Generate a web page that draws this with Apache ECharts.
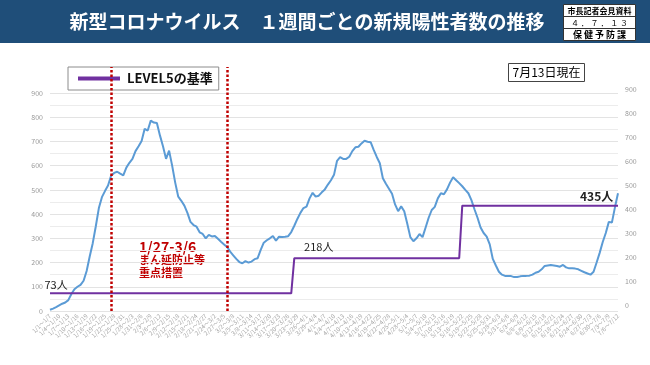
<!DOCTYPE html>
<html><head><meta charset="utf-8">
<script src="https://cdn.jsdelivr.net/npm/echarts@6/dist/echarts.min.js"></script>
<style>html,body{margin:0;padding:0;background:#fff}#c{width:650px;height:365px}</style>
</head><body><div id="c"></div>
<script>
// x categories: 7-day windows (start-end)
const categories = [
"1/1～1/7","1/2～1/8","1/3～1/9","1/4～1/10","1/5～1/11","1/6～1/12","1/7～1/13","1/8～1/14","1/9～1/15","1/10～1/16",
"1/11～1/17","1/12～1/18","1/13～1/19","1/14～1/20","1/15～1/21","1/16～1/22","1/17～1/23","1/18～1/24","1/19～1/25","1/20～1/26",
"1/21～1/27","1/22～1/28","1/23～1/29","1/24～1/30","1/25～1/31",
"1/26～2/1","1/27～2/2","1/28～2/3","1/29～2/4","1/30～2/5","1/31～2/6","2/1～2/7","2/2～2/8","2/3～2/9","2/4～2/10",
"2/5～2/11","2/6～2/12","2/7～2/13","2/8～2/14","2/9～2/15","2/10～2/16","2/11～2/17","2/12～2/18","2/13～2/19","2/14～2/20",
"2/15～2/21","2/16～2/22","2/17～2/23","2/18～2/24","2/19～2/25","2/20～2/26","2/21～2/27","2/22～2/28",
"2/23～3/1","2/24～3/2","2/25～3/3","2/26～3/4","2/27～3/5","2/28～3/6","3/1～3/7","3/2～3/8","3/3～3/9","3/4～3/10",
"3/5～3/11","3/6～3/12","3/7～3/13","3/8～3/14","3/9～3/15","3/10～3/16","3/11～3/17","3/12～3/18","3/13～3/19","3/14～3/20",
"3/15～3/21","3/16～3/22","3/17～3/23","3/18～3/24","3/19～3/25","3/20～3/26","3/21～3/27","3/22～3/28","3/23～3/29","3/24～3/30",
"3/25～3/31",
"3/26～4/1","3/27～4/2","3/28～4/3","3/29～4/4","3/30～4/5","3/31～4/6","4/1～4/7","4/2～4/8","4/3～4/9","4/4～4/10",
"4/5～4/11","4/6～4/12","4/7～4/13","4/8～4/14","4/9～4/15","4/10～4/16","4/11～4/17","4/12～4/18","4/13～4/19","4/14～4/20",
"4/15～4/21","4/16～4/22","4/17～4/23","4/18～4/24","4/19～4/25","4/20～4/26","4/21～4/27","4/22～4/28","4/23～4/29","4/24～4/30",
"4/25～5/1","4/26～5/2","4/27～5/3","4/28～5/4","4/29～5/5","4/30～5/6","5/1～5/7","5/2～5/8","5/3～5/9","5/4～5/10",
"5/5～5/11","5/6～5/12","5/7～5/13","5/8～5/14","5/9～5/15","5/10～5/16","5/11～5/17","5/12～5/18","5/13～5/19","5/14～5/20",
"5/15～5/21","5/16～5/22","5/17～5/23","5/18～5/24","5/19～5/25","5/20～5/26","5/21～5/27","5/22～5/28","5/23～5/29","5/24～5/30",
"5/25～5/31",
"5/26～6/1","5/27～6/2","5/28～6/3","5/29～6/4","5/30～6/5","5/31～6/6","6/1～6/7","6/2～6/8","6/3～6/9","6/4～6/10",
"6/5～6/11","6/6～6/12","6/7～6/13","6/8～6/14","6/9～6/15","6/10～6/16","6/11～6/17","6/12～6/18","6/13～6/19","6/14～6/20",
"6/15～6/21","6/16～6/22","6/17～6/23","6/18～6/24","6/19～6/25","6/20～6/26","6/21～6/27","6/22～6/28","6/23～6/29","6/24～6/30",
"6/25～7/1","6/26～7/2","6/27～7/3","6/28～7/4","6/29～7/5","6/30～7/6","7/1～7/7","7/2～7/8","7/3～7/9","7/4～7/10",
"7/5～7/11","7/6～7/12"
];

// weekly new positive cases
const weeklyCases = [
5,10,16,23,30,35,45,70,90,100,
108,125,165,225,280,350,425,470,495,518,
558,570,575,567,560,592,612,628,660,680,
702,752,745,786,778,776,725,680,628,662,
600,530,472,455,435,405,368,355,348,325,
318,300,314,308,310,298,286,275,264,245,
230,215,202,197,206,200,204,214,218,252,
282,292,300,310,290,307,306,307,309,326,
352,380,405,425,431,465,488,472,476,490,
502,522,540,562,620,635,628,628,637,660,
676,678,692,703,699,697,665,636,610,548,
525,505,484,440,412,432,412,360,305,288,
300,318,305,345,385,417,430,465,486,482,
502,530,552,540,528,515,500,486,458,420,
385,345,322,307,275,215,188,162,150,145,
145,144,140,140,143,145,145,146,150,158,
162,172,186,188,190,188,186,183,190,180,
176,176,175,172,166,160,155,150,162,200,
240,285,322,368,365,428,486
];

// LEVEL5 threshold
const level5 = [
73,73,73,73,73,73,73,73,73,73,73,73,73,73,73,73,73,73,73,73,
73,73,73,73,73,73,73,73,73,73,73,73,73,73,73,73,73,73,73,73,
73,73,73,73,73,73,73,73,73,73,73,73,73,73,73,73,73,73,73,73,
73,73,73,73,73,73,73,73,73,73,73,73,73,73,73,73,73,73,73,73,
218,218,218,218,218,218,218,218,218,218,218,218,218,218,218,218,218,218,218,218,
218,218,218,218,218,218,218,218,218,218,218,218,218,218,218,218,218,218,218,218,
218,218,218,218,218,218,218,218,218,218,218,218,218,218,218,
435,435,435,435,435,435,435,435,435,435,435,435,435,435,435,435,435,435,435,435,
435,435,435,435,435,435,435,435,435,435,435,435,435,435,435,435,435,435,435,435,
435,435,435,435,435,435,435,435,435,435,435,435
];

// level labels: [category, value]
const levelLabels = [["1/3～1/9",73],["3/30～4/5",218],["6/29～7/5",435]];
// priority measures period (1/27-3/6)
const measurePeriod = ["1/21～1/27","2/28～3/6"];
const yMin = 0, yMax = 900, yStep = 100;

const FONT = '"Noto Sans CJK JP","Noto Sans",sans-serif';
const chart = echarts.init(document.getElementById('c'));
chart.setOption({
  animation:false,
  backgroundColor:'#ffffff',
  textStyle:{fontFamily:FONT},
  grid:[
    {left:50, right:32, top:93, bottom:54},
    {left:50, right:32, top:89, bottom:60},
    {left:50, right:32, top:67, bottom:54}
  ],
  legend:{
    data:['LEVEL5の基準'], left:68, top:67, orient:'horizontal',
    backgroundColor:'#fff', borderColor:'#8c8c8c', borderWidth:1,
    padding:[5,6,5,10], icon:'rect', itemWidth:42, itemHeight:4,
    textStyle:{fontSize:13, fontWeight:'bold', color:'#111', fontFamily:FONT, padding:[0,0,0,2]}
  },
  xAxis:[
    {type:'category', gridIndex:0, data:categories, boundaryGap:false,
     axisLine:{show:false}, axisTick:{show:false},
     axisLabel:{interval:2, rotate:45, fontSize:6, color:'#a6a6a6', margin:4, fontFamily:FONT}},
    {type:'category', gridIndex:1, data:categories, boundaryGap:false, show:false},
    {type:'category', gridIndex:2, data:categories, boundaryGap:false, show:false}
  ],
  yAxis:[
    {type:'value', gridIndex:0, min:yMin, max:yMax, interval:yStep,
     axisLine:{show:false}, axisTick:{show:false},
     axisLabel:{fontSize:7, color:'#9a9a9a', margin:7, fontFamily:FONT},
     splitLine:{lineStyle:{color:'#e3e3e3', width:1}},
     minorTick:{show:false, splitNumber:2},
     minorSplitLine:{show:true, lineStyle:{color:'#ececec', width:1}}},
    {type:'value', gridIndex:1, position:'right', min:yMin, max:yMax, interval:yStep,
     axisLine:{show:false}, axisTick:{show:false}, splitLine:{show:false},
     axisLabel:{fontSize:7, color:'#9a9a9a', margin:7, fontFamily:FONT}},
    {type:'value', gridIndex:2, min:0, max:1, show:false}
  ],
  series:[
    {name:'新規陽性者数', type:'line', xAxisIndex:0, yAxisIndex:0, data:weeklyCases,
     showSymbol:false, smooth:false, lineStyle:{color:'#5b9bd5', width:2}, itemStyle:{color:'#5b9bd5'}, z:3},
    {name:'LEVEL5の基準', type:'line', xAxisIndex:0, yAxisIndex:0, data:level5,
     showSymbol:false, lineStyle:{color:'#7030a0', width:2}, itemStyle:{color:'#7030a0'}, z:4,
     markPoint:{symbol:'circle', symbolSize:0, silent:true,
       label:{show:true, position:'top', distance:3, formatter:'{c}人', color:'#222', fontSize:11, fontFamily:FONT},
       data:[
         {coord:levelLabels[0], value:levelLabels[0][1]},
         {coord:levelLabels[1], value:levelLabels[1][1], label:{distance:6}},
         {coord:levelLabels[2], value:levelLabels[2][1], label:{distance:3, fontSize:12, fontWeight:'bold'}}
       ]}},
    {name:'重点措置期間', type:'line', xAxisIndex:2, yAxisIndex:2, data:[],
     markLine:{symbol:'none', silent:true, label:{show:false},
       lineStyle:{color:'#c00000', type:[2.5,2], width:2.5},
       data:[{xAxis:measurePeriod[0]},{xAxis:measurePeriod[1]}]}}
  ],
  graphic:[
    {type:'rect', left:0, top:0, shape:{width:650, height:43}, style:{fill:'#1f4e79'}, z:0},
    {type:'text', x:307, y:22, style:{text:'新型コロナウイルス　１週間ごとの新規陽性者数の推移', fill:'#fff', font:'bold 19px "Noto Sans CJK JP"', align:'center', verticalAlign:'middle'}},
    {type:'rect', shape:{x:563.5, y:4.5, width:72, height:36}, style:{fill:'#fff', stroke:'#333', lineWidth:1}},
    {type:'line', shape:{x1:563.5, y1:16.5, x2:635.5, y2:16.5}, style:{stroke:'#333', lineWidth:1}},
    {type:'line', shape:{x1:563.5, y1:28.5, x2:635.5, y2:28.5}, style:{stroke:'#333', lineWidth:1}},
    {type:'text', x:599.5, y:10.5, style:{text:'市長記者会見資料', fill:'#000', font:'bold 8px "Noto Sans CJK JP"', align:'center', verticalAlign:'middle'}},
    {type:'text', x:599.5, y:22.5, style:{text:'４ ． ７ ． １ ３', fill:'#000', font:'8px "Noto Sans CJK JP"', align:'center', verticalAlign:'middle'}},
    {type:'text', x:599.5, y:34.5, style:{text:'保 健 予 防 課', fill:'#000', font:'bold 9px "Noto Sans CJK JP"', align:'center', verticalAlign:'middle'}},
    {type:'rect', shape:{x:508.5, y:63.5, width:76, height:18}, style:{fill:'#fff', stroke:'#444', lineWidth:1}},
    {type:'text', x:546.5, y:72.5, style:{text:'7月13日現在', fill:'#000', font:'12px "Noto Sans CJK JP"', align:'center', verticalAlign:'middle'}},
    {type:'text', x:139, y:246.5, style:{text:'1/27-3/6', fill:'#c00000', font:'bold 14px "Noto Sans CJK JP"', align:'left', verticalAlign:'middle'}},
    {type:'text', x:139, y:259.5, style:{text:'まん延防止等', fill:'#c00000', font:'bold 11px "Noto Sans CJK JP"', align:'left', verticalAlign:'middle'}},
    {type:'text', x:139, y:272.5, style:{text:'重点措置', fill:'#c00000', font:'bold 11px "Noto Sans CJK JP"', align:'left', verticalAlign:'middle'}}
  ]
});
</script></body></html>
